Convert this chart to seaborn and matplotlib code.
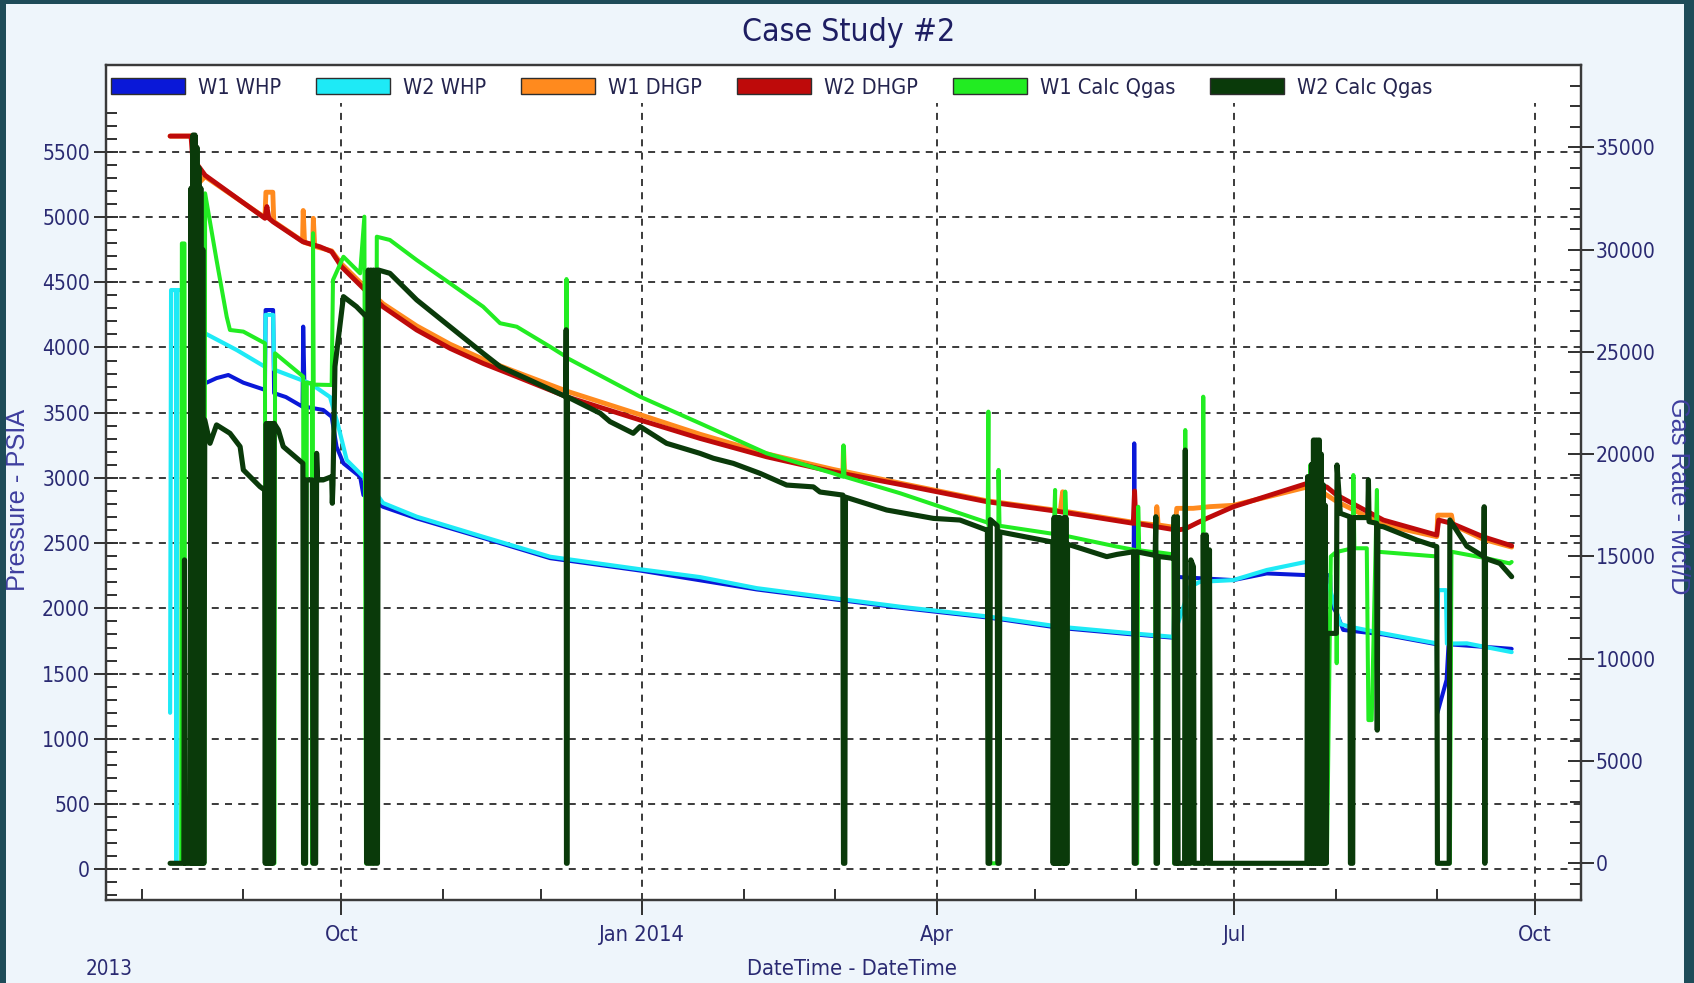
import numpy as np
import pandas as pd
import matplotlib
matplotlib.use("Agg")
import matplotlib.pyplot as plt
from matplotlib.patches import Patch, Rectangle
from matplotlib.ticker import FixedLocator, FixedFormatter
from matplotlib import font_manager as fm
import matplotlib.dates as mdates
import seaborn as sns

# ---------------------------------------------------------------------------
# Data: elapsed days from 1 Oct 2013; pressures in psia, gas rates in Mcf/D
# ---------------------------------------------------------------------------
START = pd.Timestamp("2013-10-01")

w1_whp_days = [-41.7, -38.2, -34.6, -30.0, -24.0, -23.4, -23.2, -20.9, -20.6, -17.0,
               -11.9, -11.7, -11.2, -5.6, -3.0, -1.5, 0.6, 5.7, 6.7, 12.7,
               23.0, 43.3, 63.8, 91.3, 127.0, 170.8, 198.3, 219.8, 242.1, 242.4,
               242.8, 254.4, 254.8, 272.7, 282.9, 295.2, 302.3, 302.5, 304.3, 306.3,
               318.6, 334.9, 335.1, 337.9, 338.5, 357.8]
w1_whp_psi = [3725, 3765, 3789, 3730, 3680, 3674, 4287, 4287, 3650, 3620,
              3546, 4160, 3546, 3521, 3469, 3239, 3112, 3009, 2869, 2779,
              2690, 2540, 2385, 2290, 2145, 2005, 1928, 1850, 1800, 3265,
              1800, 1775, 2242, 2217, 2268, 2255, 2255, 2038, 1963, 1835,
              1800, 1725, 1199, 1452, 1725, 1690]

w2_whp_days = [-52.4, -52.1, -50.6, -50.5, -50.2, -48.8, -48.5, -44.8, -44.5, -41.7,
               -32.0, -23.4, -23.2, -20.9, -20.6, -9.6, -3.5, -1.0, 1.6, 7.7,
               12.7, 23.0, 43.3, 63.8, 91.3, 109.6, 127.0, 150.0, 170.8, 198.3,
               219.8, 242.1, 254.4, 259.5, 262.5, 272.7, 282.9, 295.2, 296.5, 302.3,
               305.4, 308.4, 318.6, 334.9, 335.3, 337.7, 338.0, 344.1, 357.8]
w2_whp_psi = [1200, 4440, 4440, 60, 4440, 4440, 60, 60, 4108, 4108,
              3980, 3852, 4250, 4250, 3830, 3725, 3620, 3400, 3137, 2984,
              2808, 2703, 2549, 2396, 2300, 2240, 2155, 2080, 2013, 1936,
              1859, 1808, 1782, 2166, 2204, 2217, 2294, 2358, 2358, 2141,
              1880, 1859, 1808, 1732, 2140, 2140, 1730, 1732, 1665]

w1_dhgp_days = [-52.4, -45.6, -45.2, -44.0, -41.7, -23.4, -23.1, -21.0, -20.7, -11.9,
                -11.7, -11.3, -8.8, -8.6, -8.2, -3.0, 0.0, 6.7, 12.7, 23.0,
                33.2, 43.3, 53.6, 68.9, 91.3, 109.6, 130.0, 150.4, 153.3, 153.5,
                153.8, 170.8, 197.3, 219.8, 220.5, 221.0, 242.1, 249.0, 249.3, 249.7,
                254.9, 255.4, 260.4, 265.6, 272.7, 295.2, 296.2, 304.3, 318.6, 334.9,
                335.2, 339.4, 339.9, 349.1, 357.8]
w1_dhgp_psi = [5620, 5620, 5230, 5250, 5310, 4995, 5190, 5190, 4965, 4815,
               5050, 4805, 4785, 4990, 4775, 4740, 4640, 4475, 4335, 4165,
               4025, 3910, 3810, 3665, 3485, 3335, 3185, 3065, 3050, 3240,
               3050, 2960, 2825, 2748, 2894, 2745, 2660, 2640, 2780, 2640,
               2620, 2767, 2767, 2780, 2790, 2930, 2950, 2820, 2640, 2550,
               2715, 2715, 2640, 2530, 2470]

w2_dhgp_days = [-52.4, -46.0, -45.5, -41.7, -23.4, -22.8, -22.2, -20.9, -11.8, -6.6,
                -3.0, 0.0, 6.7, 12.7, 23.0, 33.2, 43.3, 53.6, 68.9, 91.3,
                109.6, 130.0, 150.4, 170.8, 197.3, 219.8, 242.1, 242.5, 242.9, 255.4,
                258.0, 262.0, 264.6, 272.7, 295.2, 296.2, 301.3, 304.3, 318.6, 334.9,
                335.5, 339.4, 349.1, 357.8]
w2_dhgp_psi = [5620, 5620, 5450, 5320, 4990, 5080, 4990, 4963, 4810, 4772,
               4734, 4619, 4453, 4312, 4134, 3993, 3878, 3776, 3622, 3444,
               3303, 3162, 3047, 2950, 2818, 2741, 2652, 2900, 2652, 2600,
               2610, 2660, 2690, 2779, 2958, 2971, 2930, 2869, 2677, 2562,
               2677, 2652, 2549, 2480]

w1_qgas_days = [-49.0, -48.8, -48.0, -47.8, -41.9, -41.7, -38.2, -35.1, -34.1, -30.0,
                -23.4, -23.2, -20.5, -20.3, -11.7, -11.6, -10.8, -10.6, -9.0, -8.9,
                -8.7, -8.5, -3.0, -2.6, 0.6, 5.7, 7.0, 7.5, 10.5, 10.8,
                14.8, 23.0, 33.2, 43.3, 48.5, 53.6, 63.8, 68.6, 68.8, 69.0,
                91.3, 109.6, 130.0, 150.4, 153.3, 153.5, 153.8, 170.8, 197.6, 197.8,
                198.1, 200.6, 200.9, 201.2, 217.8, 218.2, 218.5, 221.0, 221.3, 221.7,
                237.1, 242.5, 242.7, 243.3, 243.6, 243.9, 248.8, 249.0, 249.6, 249.8,
                254.4, 254.6, 257.8, 258.0, 258.3, 263.3, 263.5, 263.8, 296.0, 296.2,
                296.4, 301.3, 302.5, 304.0, 304.3, 304.6, 309.2, 309.4, 309.7, 313.5,
                314.0, 315.0, 316.6, 316.8, 334.9, 335.0, 338.9, 339.4, 350.1, 357.2,
                357.8]
w1_qgas_mcfd = [0, 30300, 30300, 0, 0, 32750, 29490, 26720, 26070, 25990,
                25420, 0, 0, 24930, 23790, 0, 0, 23500, 23450, 0,
                30800, 23400, 23380, 28510, 29650, 28840, 31610, 0, 0, 30630,
                30470, 29490, 28350, 27210, 26400, 26230, 25250, 24770, 28560, 24700,
                22810, 21510, 20040, 19060, 18900, 20430, 18900, 18090, 16650, 22080,
                0, 0, 19230, 16500, 16100, 18250, 0, 0, 18170, 16000,
                15480, 15320, 0, 0, 17430, 15300, 15200, 0, 0, 15200,
                15100, 0, 0, 21180, 0, 0, 22810, 0, 0, 19470,
                0, 0, 15000, 15200, 9780, 15230, 15400, 18980, 15400, 15400,
                7000, 7000, 18250, 15230, 15000, 0, 0, 15230, 14910, 14660,
                14730]

w2_qgas_days = [-52.4, -48.4, -48.2, -48.0, -47.8, -46.3, -46.0, -45.7, -45.4, -45.1,
                -44.8, -44.5, -44.2, -43.9, -43.6, -43.3, -43.0, -42.7, -42.4, -42.1,
                -41.8, -40.2, -38.2, -34.1, -31.0, -30.0, -24.9, -23.5, -23.3, -23.0,
                -22.7, -22.4, -22.1, -21.8, -21.5, -21.2, -20.9, -20.6, -19.3, -17.8,
                -11.8, -11.6, -11.0, -10.8, -8.9, -8.7, -7.9, -7.6, -7.3, -5.6,
                -3.0, -2.8, -2.6, -2.0, 0.6, 4.6, 7.6, 7.8, 8.2, 8.6,
                9.0, 9.4, 9.8, 10.2, 10.6, 11.0, 11.3, 14.8, 23.0, 33.2,
                43.3, 48.5, 58.7, 68.6, 68.7, 68.8, 69.0, 69.1, 79.1, 82.1,
                89.2, 91.3, 99.4, 109.6, 113.7, 119.8, 128.0, 136.1, 144.3, 146.3,
                153.3, 153.5, 153.9, 154.1, 166.7, 181.0, 189.1, 197.3, 197.5, 197.7,
                198.2, 198.4, 200.5, 200.7, 201.1, 201.3, 217.5, 217.6, 217.9, 218.2,
                218.5, 218.8, 219.1, 219.4, 219.7, 220.0, 220.6, 220.9, 221.2, 221.5,
                221.8, 222.0, 234.0, 237.1, 242.2, 242.4, 242.9, 243.1, 248.8, 249.0,
                249.1, 249.5, 249.7, 254.4, 254.6, 254.8, 255.4, 255.6, 255.8, 257.8,
                258.0, 258.2, 259.5, 259.7, 260.5, 260.7, 263.3, 263.5, 263.9, 264.4,
                264.9, 265.4, 265.7, 295.2, 295.4, 295.7, 296.0, 296.3, 296.6, 296.9,
                297.2, 297.5, 297.8, 298.1, 298.4, 298.7, 299.0, 299.3, 299.6, 299.9,
                300.2, 300.5, 300.8, 301.1, 301.4, 304.2, 304.4, 305.4, 308.3, 308.5,
                309.2, 309.4, 313.8, 314.0, 314.2, 316.5, 316.7, 316.9, 318.6, 328.8,
                334.9, 335.1, 338.7, 338.9, 344.1, 349.3, 349.4, 349.6, 349.8, 354.2,
                357.8]
w2_qgas_mcfd = [0, 0, 0, 14830, 0, 0, 33000, 0, 35600, 0,
                35600, 0, 35000, 0, 34000, 0, 33000, 0, 30000, 0,
                21670, 20530, 21430, 21020, 20370, 19230, 18410, 18250, 0, 21500,
                0, 21500, 0, 21500, 0, 21500, 0, 21510, 21180, 20370,
                19550, 0, 0, 18740, 18740, 0, 0, 20040, 18740, 18740,
                18900, 17600, 18500, 24280, 27700, 27210, 26720, 0, 29000, 0,
                29000, 0, 29000, 0, 29000, 0, 29000, 28840, 27540, 26230,
                24930, 24280, 23540, 22810, 26080, 0, 0, 22800, 22000, 21590,
                21020, 21350, 20530, 20040, 19800, 19550, 19060, 18490, 18400, 18150,
                18000, 0, 0, 17900, 17270, 16860, 16780, 16290, 16300, 0,
                0, 16800, 16500, 0, 0, 16200, 15700, 0, 16900, 0,
                16900, 0, 16900, 0, 16900, 0, 0, 16900, 0, 16900,
                0, 15600, 14990, 15100, 15230, 0, 0, 15230, 15050, 16940,
                0, 0, 15000, 14910, 16940, 0, 0, 16940, 0, 0,
                20200, 0, 0, 14830, 14500, 0, 0, 16050, 0, 16050,
                0, 15320, 0, 0, 18900, 0, 18900, 0, 19500, 0,
                20690, 0, 20690, 0, 20690, 0, 20690, 0, 20000, 0,
                18500, 0, 17500, 0, 11240, 11240, 19470, 17110, 16940, 0,
                0, 16900, 16900, 18740, 16700, 16620, 6510, 16500, 16450, 15800,
                15480, 0, 0, 16780, 15500, 14990, 17430, 0, 14900, 14660,
                14010]

series_names = ["W1 WHP", "W2 WHP", "W1 DHGP", "W2 DHGP", "W1 Calc Qgas", "W2 Calc Qgas"]
series_colors = ["#0A18D8", "#1EEAF6", "#FF8A1E", "#BE0A0A", "#22EC22", "#0A3A0A"]

pressure_ticks = list(range(0, 5501, 500))
rate_ticks = list(range(0, 35001, 5000))
month_ticks = ["2013-10-01", "2014-01-01", "2014-04-01", "2014-07-01", "2014-10-01"]
month_labels = ["Oct", "Jan 2014", "Apr", "Jul", "Oct"]


# ---------------------------------------------------------------------------
# Fonts: prefer a narrow sans face, size every text by its target width
# ---------------------------------------------------------------------------
def narrow_face():
    prefs = ["Liberation Sans Narrow", "Noto Sans", "Open Sans", "DejaVu Sans",
             "Roboto", "Lato", "Inter", "Liberation Sans"]
    found = {}
    for f in fm.fontManager.ttflist:
        st = f.stretch
        if isinstance(st, str):
            st = fm.stretch_dict.get(st, 500)
        narrow = ("narrow" in f.name.lower()) or ("condensed" in f.name.lower()) or st < 500
        if narrow and f.style == "normal" and f.weight in (400, "normal", "regular", "book"):
            found.setdefault(f.name, f)
    for p in prefs:
        for name, f in found.items():
            if name.startswith(p):
                return fm.FontProperties(fname=f.fname)
    if found:
        return fm.FontProperties(fname=next(iter(found.values())).fname)
    return fm.FontProperties(family="Liberation Sans")


sns.set_style("ticks")
plt.rcParams["font.family"] = ["Liberation Sans", "DejaVu Sans"]

NARROW = narrow_face()
REGULAR = fm.FontProperties(family="Liberation Sans")

TEXT = "#2A2A72"
LABEL = "#3E3E9E"
GRID = "#3A3A3A"

W, H = 1694, 983
fig = plt.figure(figsize=(W / 100, H / 100), dpi=100)
renderer = fig.canvas.get_renderer()


def fit(text, width_px, fp):
    probe = fig.text(0, 0, text, fontproperties=fp, fontsize=20)
    w = probe.get_window_extent(renderer).width
    probe.remove()
    return 20 * width_px / w


def fp_at(fp, size):
    p = fp.copy()
    p.set_size(size)
    return p


size_title = fit("Case Study #2", 212, NARROW)
size_legend = fit("W1 Calc Qgas", 135, NARROW)
size_xtick = fit("Jan 2014", 86, NARROW)
size_ytick = fit("35000", 60, NARROW)
size_xlabel = fit("DateTime - DateTime", 210, NARROW)
size_year = fit("2013", 47, NARROW)
size_ylabel = fit("Pressure - PSIA", 182, REGULAR)


def to_dates(days):
    return START + pd.to_timedelta(np.asarray(days, dtype=float), unit="D")


fig.patch.set_facecolor("#1E4B58")
fig.add_artist(Rectangle((6 / W, 0), (W - 16) / W, (H - 4) / H, transform=fig.transFigure,
                         facecolor="#EEF5FB", edgecolor="none", zorder=-10))

ax1 = fig.add_axes([106 / W, 83 / H, 1475 / W, 835 / H])
ax1.set_facecolor("white")
ax2 = ax1.twinx()

pressure_series = [
    (w1_whp_days, w1_whp_psi, series_colors[0], 2.9),
    (w2_whp_days, w2_whp_psi, series_colors[1], 3.0),
    (w1_dhgp_days, w1_dhgp_psi, series_colors[2], 3.5),
    (w2_dhgp_days, w2_dhgp_psi, series_colors[3], 3.5),
]
for days, vals, color, lw in pressure_series:
    sns.lineplot(x=to_dates(days), y=vals, ax=ax1, color=color, linewidth=lw,
                 estimator=None, sort=False, legend=False)

rate_series = [
    (w1_qgas_days, w1_qgas_mcfd, series_colors[4], 2.9),
    (w2_qgas_days, w2_qgas_mcfd, series_colors[5], 3.7),
]
for days, vals, color, lw in rate_series:
    sns.lineplot(x=to_dates(days), y=vals, ax=ax2, color=color, linewidth=lw,
                 estimator=None, sort=False, legend=False)

# axes ranges
ax1.set_xlim(to_dates([-72])[0], to_dates([379])[0])
ax1.set_ylim(-235, 6165)
ax2.set_ylim(-1794, 39023)

# y ticks
ax1.yaxis.set_major_locator(FixedLocator(pressure_ticks))
ax1.yaxis.set_minor_locator(FixedLocator(list(range(-200, 6101, 100))))
ax2.yaxis.set_major_locator(FixedLocator(rate_ticks))
ax2.yaxis.set_minor_locator(FixedLocator(list(range(-1000, 38001, 1000))))

# x ticks
major_x = mdates.date2num(pd.to_datetime(month_ticks))
ax1.xaxis.set_major_locator(FixedLocator(major_x))
ax1.xaxis.set_major_formatter(FixedFormatter(month_labels))
ax1.xaxis.set_minor_locator(mdates.MonthLocator())

tick_col = "#303030"
ax1.tick_params(axis="y", which="major", direction="inout", length=17, width=1.4,
                color=tick_col, pad=3, labelcolor=TEXT)
ax1.tick_params(axis="y", which="minor", direction="in", length=8, width=1.4, color=tick_col)
ax2.tick_params(axis="y", which="major", direction="inout", length=19, width=1.4,
                color=tick_col, pad=1, labelcolor=TEXT)
ax2.tick_params(axis="y", which="minor", direction="in", length=8, width=1.4, color=tick_col)
ax1.tick_params(axis="x", which="major", direction="out", length=11, width=1.4,
                color=tick_col, pad=7, labelcolor=TEXT)
ax1.tick_params(axis="x", which="minor", direction="in", length=8, width=1.4, color=tick_col)
ax2.tick_params(axis="x", which="both", bottom=False, top=False)

for lab in ax1.get_yticklabels() + ax2.get_yticklabels():
    lab.set_fontproperties(fp_at(NARROW, size_ytick))
for lab in ax1.get_xticklabels():
    lab.set_fontproperties(fp_at(NARROW, size_xtick))

# grid (pressure axis only) with the legend band kept clear
ax1.set_axisbelow(True)
ax1.grid(True, which="major", axis="both", color=GRID, linewidth=1.4,
         linestyle=(0, (3.6, 3.2)))
ax2.grid(False)
ax1.add_patch(Rectangle((0, 0.955), 1, 0.045, transform=ax1.transAxes,
                        facecolor="white", edgecolor="none", zorder=1))

for ax in (ax1, ax2):
    for sp in ax.spines.values():
        sp.set_color("#3A3A3A")
        sp.set_linewidth(1.6)

# labels
ax1.set_xlabel("DateTime - DateTime", color=TEXT, fontproperties=fp_at(NARROW, size_xlabel))
ax1.xaxis.label.set_va("center")
ax1.xaxis.set_label_coords(0.506, -0.0826)

ax1.set_ylabel("Pressure - PSIA", color=LABEL, fontproperties=fp_at(REGULAR, size_ylabel))
ax1.yaxis.label.set_va("center")
ax1.yaxis.set_label_coords(-0.0597, 0.479)

ax2.set_ylabel("Gas Rate - Mcf/D", color=LABEL, rotation=270,
               fontproperties=fp_at(REGULAR, size_ylabel))
ax2.yaxis.label.set_va("center")
ax2.yaxis.set_label_coords(1.0658, 0.484)

fig.text(849 / W, 1 - 32 / H, "Case Study #2", ha="center", va="center",
         fontproperties=fp_at(NARROW, size_title), color="#1E1E62")
fig.text(109 / W, 1 - 969 / H, "2013", ha="center", va="center",
         fontproperties=fp_at(NARROW, size_year), color=TEXT)

px_per_em = size_legend * 100 / 72
handles = [Patch(facecolor=c, edgecolor="#2E2E2E", linewidth=1.0) for c in series_colors]
leg = ax2.legend(handles, series_names, loc="center left", bbox_to_anchor=(0, 0.973),
                 ncol=6, frameon=False, prop=fp_at(NARROW, size_legend),
                 handlelength=74 / px_per_em, handleheight=17 / px_per_em,
                 handletextpad=13 / px_per_em, columnspacing=35 / px_per_em,
                 borderpad=5 / px_per_em, borderaxespad=0)
for t in leg.get_texts():
    t.set_color("#24244E")

fig.savefig("out.png", dpi=100, facecolor=fig.get_facecolor())
